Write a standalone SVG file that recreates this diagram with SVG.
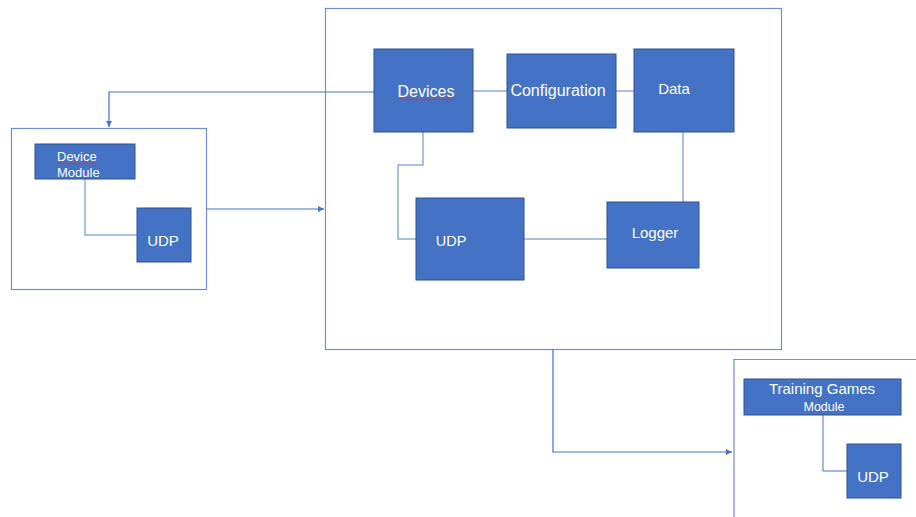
<svg xmlns="http://www.w3.org/2000/svg" width="916" height="517" viewBox="0 0 916 517">
<style>
.frame{fill:#ffffff;stroke:#6E8FD0;stroke-width:1.2}
.node{fill:#4472C4;stroke:#2F528F;stroke-width:1}
.lbl{fill:#ffffff;font-family:"Liberation Sans",Arial,sans-serif}
.arrow{fill:none;stroke:#4472C4;stroke-width:1.2}
.link{fill:none;stroke:#8FAADC;stroke-width:1.5}
.squiggle{fill:none;stroke:#E03030;stroke-width:0.8}
</style>
<defs>
<marker id="ah" viewBox="0 0 10 10" refX="10" refY="5" markerWidth="6" markerHeight="6" orient="auto" markerUnits="userSpaceOnUse">
<path d="M0,0 L10,5 L0,10 z" fill="#4472C4"/>
</marker>
</defs>
<rect width="916" height="517" fill="#ffffff"/>
<g id="main-frame"><rect class="frame" x="325.5" y="8.5" width="456" height="341"/></g>
<g id="device-frame"><rect class="frame" x="11.5" y="128.5" width="195" height="161"/></g>
<g id="training-frame"><path class="frame" d="M734,518 V359.5 H917" /></g>
<g id="connectors">
<polyline class="arrow" points="374,92 109,92 109,127" marker-end="url(#ah)"/>
<polyline class="arrow" points="206,209 324,209" marker-end="url(#ah)"/>
<polyline class="arrow" points="553,349 553,452 732,452" marker-end="url(#ah)"/>
<line class="link" x1="473" y1="91" x2="507" y2="91"/>
<line class="link" x1="616" y1="91" x2="634" y2="91"/>
<polyline class="link" points="423,132 423,165 398,165 398,239 416,239"/>
<line class="link" x1="524" y1="239" x2="607" y2="239"/>
<line class="link" x1="683" y1="132" x2="683" y2="202"/>
<polyline class="link" points="85,179 85,235 137,235"/>
<polyline class="link" style="stroke:#4472C4;stroke-width:1" points="823,415 823,471 847,471"/>
</g>
<g id="device-module">
<rect class="node" x="35" y="144" width="100" height="35"/>
<text class="lbl" x="57" y="161" font-size="13">Device</text>
<path class="squiggle" d="M57,164 l2,-1.5 l2,1.5 l2,-1.5 l2,1.5 l2,-1.5 l2,1.5 l2,-1.5 l2,1.5 l2,-1.5 l2,1.5 l2,-1.5 l2,1.5 l2,-1.5 l2,1.5 l2,-1.5 l2,1.5 l2,-1.5 l2,1.5 l2,-1.5 l2,1.5"/>
<text class="lbl" x="57" y="177" font-size="13">Module</text>
</g>
<g id="device-udp">
<rect class="node" x="137" y="208" width="54" height="54"/>
<text class="lbl" x="163" y="246" font-size="15" text-anchor="middle">UDP</text>
</g>
<g id="devices">
<rect class="node" x="374" y="49" width="99" height="83"/>
<text class="lbl" x="426" y="97" font-size="16" text-anchor="middle">Devices</text>
<path class="squiggle" d="M398,100 l2,-1.5 l2,1.5 l2,-1.5 l2,1.5 l2,-1.5 l2,1.5 l2,-1.5 l2,1.5 l2,-1.5 l2,1.5 l2,-1.5 l2,1.5 l2,-1.5 l2,1.5 l2,-1.5 l2,1.5 l2,-1.5 l2,1.5 l2,-1.5 l2,1.5 l2,-1.5 l2,1.5 l2,-1.5 l2,1.5 l2,-1.5 l2,1.5 l2,-1.5 l2,1.5"/>
</g>
<g id="configuration">
<rect class="node" x="507" y="54" width="109" height="74"/>
<text class="lbl" x="558" y="96" font-size="16" text-anchor="middle">Configuration</text>
</g>
<g id="data">
<rect class="node" x="634" y="49" width="100" height="83"/>
<text class="lbl" x="674" y="94" font-size="15" text-anchor="middle">Data</text>
</g>
<g id="udp">
<rect class="node" x="416" y="198" width="108" height="82"/>
<text class="lbl" x="451" y="246" font-size="14.5" text-anchor="middle">UDP</text>
</g>
<g id="logger">
<rect class="node" x="607" y="202" width="92" height="66"/>
<text class="lbl" x="655" y="238" font-size="15" text-anchor="middle">Logger</text>
</g>
<g id="training-games-module">
<rect class="node" x="744" y="379" width="157" height="36"/>
<text class="lbl" x="822" y="394" font-size="15" text-anchor="middle">Training Games</text>
<text class="lbl" x="824" y="411" font-size="12.5" text-anchor="middle">Module</text>
</g>
<g id="training-udp">
<rect class="node" x="847" y="444" width="54" height="54"/>
<text class="lbl" x="873" y="482" font-size="15" text-anchor="middle">UDP</text>
</g>
</svg>
